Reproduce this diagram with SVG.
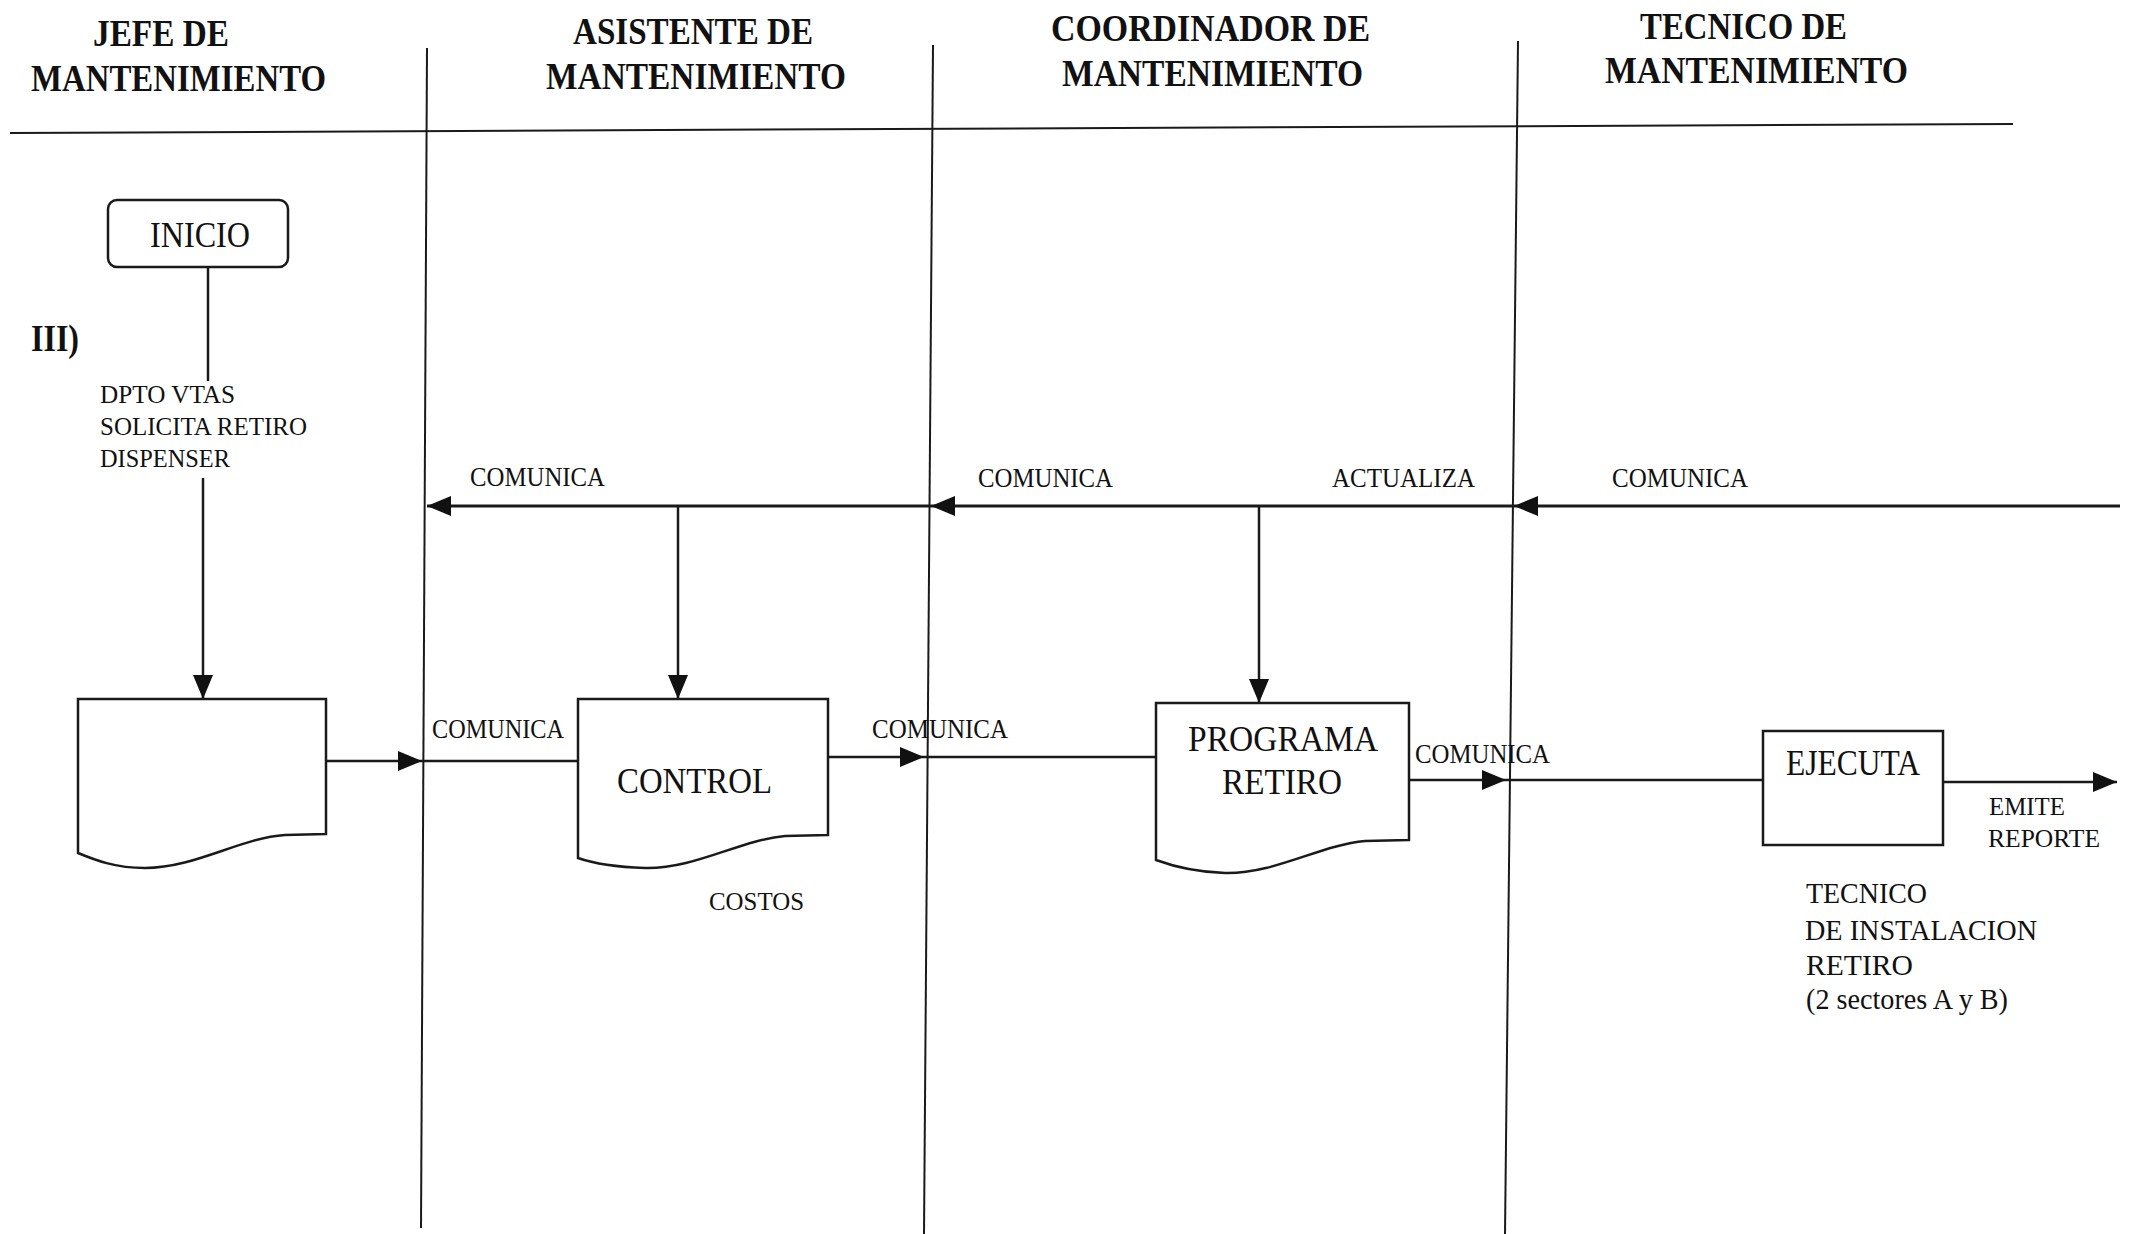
<svg xmlns="http://www.w3.org/2000/svg" width="2138" height="1234" viewBox="0 0 2138 1234">
  <style>
    .hd { font-family: "Liberation Serif", "Times New Roman", serif; font-weight: bold; font-size: 38px; fill: #111; }
    .lb { font-family: "Liberation Serif", "Times New Roman", serif; font-size: 28px; fill: #111; }
    .sm { font-family: "Liberation Serif", "Times New Roman", serif; font-size: 26px; fill: #111; }
    .nt { font-family: "Liberation Serif", "Times New Roman", serif; font-size: 35px; fill: #111; }
    .nt2 { font-family: "Liberation Serif", "Times New Roman", serif; font-size: 29px; fill: #111; }
    .lane { stroke: #1a1a1a; stroke-width: 2; fill: none; }
    .shape { stroke: #1a1a1a; stroke-width: 2.5; fill: #fff; }
    .conn { stroke: #1a1a1a; stroke-width: 2.5; fill: none; }
    .conn-thick { stroke: #1a1a1a; stroke-width: 3; fill: none; }
  </style>
  <defs>
    <marker id="arrow" viewBox="0 0 24 20" markerWidth="24" markerHeight="20" refX="24" refY="10" orient="auto" markerUnits="userSpaceOnUse">
      <path d="M0,0 L24,10 L0,20 Z" fill="#111"/>
    </marker>
  </defs>

  <rect width="2138" height="1234" fill="#fff"/>

  <!-- swimlane frame -->
  <g id="lanes">
    <line class="lane" x1="10" y1="133" x2="2013" y2="124" stroke-width="2.5"/>
    <line class="lane" x1="427" y1="48" x2="421" y2="1228"/>
    <line class="lane" x1="933" y1="45" x2="924" y2="1234"/>
    <line class="lane" x1="1518" y1="41" x2="1505" y2="1234"/>
  </g>

  <!-- lane headers -->
  <g id="headers">
    <text class="hd" x="93" y="46" textLength="136" lengthAdjust="spacingAndGlyphs">JEFE DE</text>
    <text class="hd" x="31" y="91" textLength="295" lengthAdjust="spacingAndGlyphs">MANTENIMIENTO</text>
    <text class="hd" x="573" y="44" textLength="240" lengthAdjust="spacingAndGlyphs">ASISTENTE DE</text>
    <text class="hd" x="546" y="89" textLength="300" lengthAdjust="spacingAndGlyphs">MANTENIMIENTO</text>
    <text class="hd" x="1051" y="41" textLength="319" lengthAdjust="spacingAndGlyphs">COORDINADOR DE</text>
    <text class="hd" x="1062" y="86" textLength="301" lengthAdjust="spacingAndGlyphs">MANTENIMIENTO</text>
    <text class="hd" x="1640" y="39" textLength="207" lengthAdjust="spacingAndGlyphs">TECNICO DE</text>
    <text class="hd" x="1605" y="83" textLength="303" lengthAdjust="spacingAndGlyphs">MANTENIMIENTO</text>
    <text class="hd" x="31" y="351" font-size="32" textLength="48" lengthAdjust="spacingAndGlyphs">III)</text>
  </g>

  <!-- connectors -->
  <g id="connectors">
    <line class="conn" x1="208" y1="267" x2="208" y2="381"/>
    <line class="conn" x1="203" y1="478" x2="203" y2="699" marker-end="url(#arrow)"/>
    <line class="conn" x1="326" y1="761" x2="422" y2="761" marker-end="url(#arrow)"/>
    <line class="conn" x1="422" y1="761" x2="578" y2="761"/>
    <line class="conn" x1="828" y1="757" x2="924" y2="757" marker-end="url(#arrow)"/>
    <line class="conn" x1="924" y1="757" x2="1156" y2="757"/>
    <line class="conn" x1="1409" y1="780" x2="1506" y2="780" marker-end="url(#arrow)"/>
    <line class="conn" x1="1506" y1="780" x2="1763" y2="780"/>
    <line class="conn" x1="1943" y1="782" x2="2117" y2="782" marker-end="url(#arrow)"/>
    <line class="conn-thick" x1="2120" y1="506" x2="1514" y2="506" marker-end="url(#arrow)"/>
    <line class="conn-thick" x1="1514" y1="506" x2="931" y2="506" marker-end="url(#arrow)"/>
    <line class="conn-thick" x1="931" y1="506" x2="427" y2="506" marker-end="url(#arrow)"/>
    <line class="conn" x1="678" y1="506" x2="678" y2="699" marker-end="url(#arrow)"/>
    <line class="conn" x1="1259" y1="506" x2="1259" y2="703" marker-end="url(#arrow)"/>

    <text class="sm" x="100" y="403" textLength="135" lengthAdjust="spacingAndGlyphs">DPTO VTAS</text>
    <text class="sm" x="100" y="435" textLength="207" lengthAdjust="spacingAndGlyphs">SOLICITA RETIRO</text>
    <text class="sm" x="100" y="467" textLength="130" lengthAdjust="spacingAndGlyphs">DISPENSER</text>

    <text class="lb" x="470" y="486" textLength="135" lengthAdjust="spacingAndGlyphs">COMUNICA</text>
    <text class="lb" x="978" y="487" textLength="135" lengthAdjust="spacingAndGlyphs">COMUNICA</text>
    <text class="lb" x="1332" y="487" textLength="143" lengthAdjust="spacingAndGlyphs">ACTUALIZA</text>
    <text class="lb" x="1612" y="487" textLength="136" lengthAdjust="spacingAndGlyphs">COMUNICA</text>

    <text class="lb" x="432" y="738" textLength="132" lengthAdjust="spacingAndGlyphs">COMUNICA</text>
    <text class="lb" x="872" y="738" textLength="136" lengthAdjust="spacingAndGlyphs">COMUNICA</text>
    <text class="lb" x="1415" y="763" textLength="135" lengthAdjust="spacingAndGlyphs">COMUNICA</text>

    <text class="sm" x="1989" y="815" textLength="76" lengthAdjust="spacingAndGlyphs">EMITE</text>
    <text class="sm" x="1988" y="847" textLength="112" lengthAdjust="spacingAndGlyphs">REPORTE</text>
  </g>

  <!-- start terminal -->
  <g id="inicio">
    <rect class="shape" x="108" y="200" width="180" height="67" rx="9"/>
    <text class="nt" x="150" y="247" font-size="34" textLength="100" lengthAdjust="spacingAndGlyphs">INICIO</text>
  </g>

  <!-- request document -->
  <g id="solicitud">
    <path class="shape" d="M326,834 L285,835 C240,838 195,868 145,868 C115,868 95,860 78,853 V699 H326 Z"/>
  </g>

  <!-- control document -->
  <g id="control">
    <path class="shape" d="M828,835 L785,836 C740,840 695,869 645,868 C615,867 595,864 578,858 V699 H828 Z"/>
    <text class="nt" x="617" y="793" textLength="155" lengthAdjust="spacingAndGlyphs">CONTROL</text>
    <text class="sm" x="709" y="910" textLength="95" lengthAdjust="spacingAndGlyphs">COSTOS</text>
  </g>

  <!-- withdrawal schedule document -->
  <g id="programa-retiro">
    <path class="shape" d="M1409,840 L1365,841 C1320,845 1275,874 1225,873 C1195,872 1175,867 1156,860 V703 H1409 Z"/>
    <text class="nt" x="1188" y="751" textLength="190" lengthAdjust="spacingAndGlyphs">PROGRAMA</text>
    <text class="nt" x="1222" y="794" textLength="120" lengthAdjust="spacingAndGlyphs">RETIRO</text>
  </g>

  <!-- execution process -->
  <g id="ejecuta">
    <rect class="shape" x="1763" y="731" width="180" height="114"/>
    <text class="nt" x="1786" y="775" font-size="33" textLength="134" lengthAdjust="spacingAndGlyphs">EJECUTA</text>
    <text class="nt2" x="1806" y="903" textLength="121" lengthAdjust="spacingAndGlyphs">TECNICO</text>
    <text class="nt2" x="1805" y="940" textLength="232" lengthAdjust="spacingAndGlyphs">DE INSTALACION</text>
    <text class="nt2" x="1806" y="975" textLength="107" lengthAdjust="spacingAndGlyphs">RETIRO</text>
    <text class="nt2" x="1806" y="1009" textLength="202" lengthAdjust="spacingAndGlyphs">(2 sectores A y B)</text>
  </g>
</svg>
